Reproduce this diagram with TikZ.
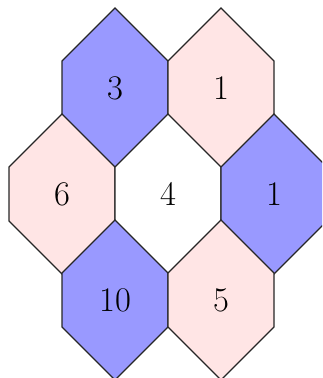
\documentclass[tikz,border=0pt]{standalone}
\definecolor{hexblue}{RGB}{153,153,255}
\definecolor{hexpink}{RGB}{255,229,229}
\tikzset{
  hexedge/.style={draw=black!85, line width=0.55pt, line join=miter},
  hexlabel/.style={font=\LARGE, inner sep=0pt},
}
\newcommand{\hexcell}[5]{% name, cx, cy, fill, label
  \path[hexedge, fill=#4] (#2,#3-80) -- (#2+53,#3-27) -- (#2+53,#3+27) -- (#2,#3+80) -- (#2-53,#3+27) -- (#2-53,#3-27) -- cycle;
  \node[hexlabel] (#1) at (#2,#3) {#5};
}
\begin{document}
\begin{tikzpicture}[x=0.5pt,y=-0.5pt]
\useasboundingbox (0,0) rectangle (322,378);
\clip (0,0) rectangle (322,378);
\hexcell{a}{115}{88}{hexblue}{3}
\hexcell{b}{221}{88}{hexpink}{1}
\hexcell{c}{62}{194}{hexpink}{6}
\hexcell{d}{168}{194}{white}{4}
\hexcell{e}{274}{194}{hexblue}{1}
\hexcell{f}{115}{300}{hexblue}{10}
\hexcell{g}{221}{300}{hexpink}{5}
\end{tikzpicture}
\end{document}
